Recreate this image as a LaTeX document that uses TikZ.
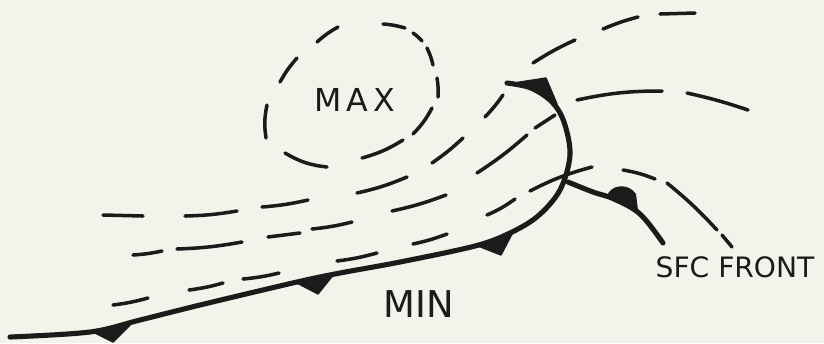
\documentclass[tikz,border=0pt]{standalone}
\usepackage{fontspec}
\setmainfont{DejaVu Sans}
\begin{document}
\begin{tikzpicture}[x=0.02cm,y=-0.02cm]
\definecolor{paper}{HTML}{F3F3EC}
\definecolor{ink}{HTML}{1C1A1A}
\tikzset{
  dsh/.style={draw=ink, line width=2pt, line cap=round},
  front/.style={draw=ink, line width=2.9pt, line cap=round, line join=round},
  tri/.style={fill=ink, draw=ink, line width=0.8pt, line join=round},
  lbl/.style={text=ink, inner sep=0pt}
}
\fill[paper] (0,0) rectangle (824,343);
\useasboundingbox (0,0) rectangle (824,343);

% main cold front
\draw[front] plot[smooth, tension=0.55] coordinates {(10,337) (90,332) (140,320) (200,305) (297,282) (340,273) (400,262) (475,246) (510,233) (538,216) (560,190) (570,155) (564,122) (552,102) (531,88) (507,83)};
\fill[tri] (93,332) -- (130,325) -- (113,342) -- cycle;
\fill[tri] (297,283) -- (334,274) -- (318,294) -- cycle;
\fill[tri] (478,246) -- (512,234) -- (501,255) -- cycle;
\fill[tri] (507,84) -- (546,78) -- (557,104) -- (540,90) -- cycle;

% second surface front
\draw[front] plot[smooth, tension=0.6] coordinates {(568,182) (593,192) (614,199) (640,214) (663,243)};
\fill[ink] (607,196) .. controls (610,185) and (628,182) .. (636,194) -- (638,210) -- cycle;

% dashed circle around MAX
\draw[dsh] (280,82) to[bend left=6] (297,58);
\draw[dsh] (317,42) to[bend left=6] (338,27);
\draw[dsh] (383,24) to[bend left=6] (405,28);
\draw[dsh] (413,33) to[bend left=6] (422,41);
\draw[dsh] (427,48) to[bend left=6] (433,65);
\draw[dsh] (437,78) to[bend left=6] (438,97);
\draw[dsh] (432,108) to[bend left=8] (413,134);
\draw[dsh] (403,140) to[bend left=8] (362,158);
\draw[dsh] (327,167) to[bend left=12] (285,153);
\draw[dsh] (266,138) to[bend left=10] (267,105);

% row A
\draw[dsh] (103,215) -- (143,216);
\draw[dsh] (185,216) to[bend right=4] (237,211);
\draw[dsh] (262,207) to[bend right=4] (308,200);
\draw[dsh] (357,193) to[bend right=5] (407,177);
\draw[dsh] (432,163) to[bend right=4] (463,138);
\draw[dsh] (485,117) to[bend right=4] (503,95);
% upper arc
\draw[dsh] (533,63) to[bend left=4] (575,40);
\draw[dsh] (603,29) to[bend left=4] (638,17);
\draw[dsh] (660,14) -- (695,13);

% row B
\draw[dsh] (133,255) to[bend right=4] (162,251);
\draw[dsh] (177,249) to[bend right=4] (242,242);
\draw[dsh] (268,237) -- (300,233);
\draw[dsh] (312,229) to[bend right=4] (352,222);
\draw[dsh] (392,211) to[bend right=4] (446,195);
\draw[dsh] (477,173) to[bend right=4] (527,135);
\draw[dsh] (535,128) -- (555,115);
\draw[dsh] (577,100) to[bend left=6] (662,91);
\draw[dsh] (687,93) to[bend left=3] (748,110);

% row C
\draw[dsh] (113,305) to[bend right=4] (148,298);
\draw[dsh] (189,290) to[bend right=4] (223,283);
\draw[dsh] (243,279) to[bend right=4] (279,273);
\draw[dsh] (337,261) to[bend right=4] (377,253);
\draw[dsh] (413,244) to[bend right=4] (447,234);
\draw[dsh] (487,215) to[bend right=6] (515,199);
\draw[dsh] (530,191) to[bend left=6] (592,167);

% dashed line beside the surface front
\draw[dsh] (623,170) to[bend left=6] (655,179);
\draw[dsh] (667,183) to[bend left=4] (717,230);
\draw[dsh] (722,235) -- (732,247);

% labels
\node[lbl, font=\fontsize{18}{18}\selectfont] (max) at (355,100) {M\,A\,X};
\node[lbl, font=\fontsize{21}{21}\selectfont] (min) at (419,304) {MIN};
\node[lbl, font=\fontsize{16}{16}\selectfont] (sfc) at (735,267) {SFC FRONT};
\end{tikzpicture}
\end{document}
